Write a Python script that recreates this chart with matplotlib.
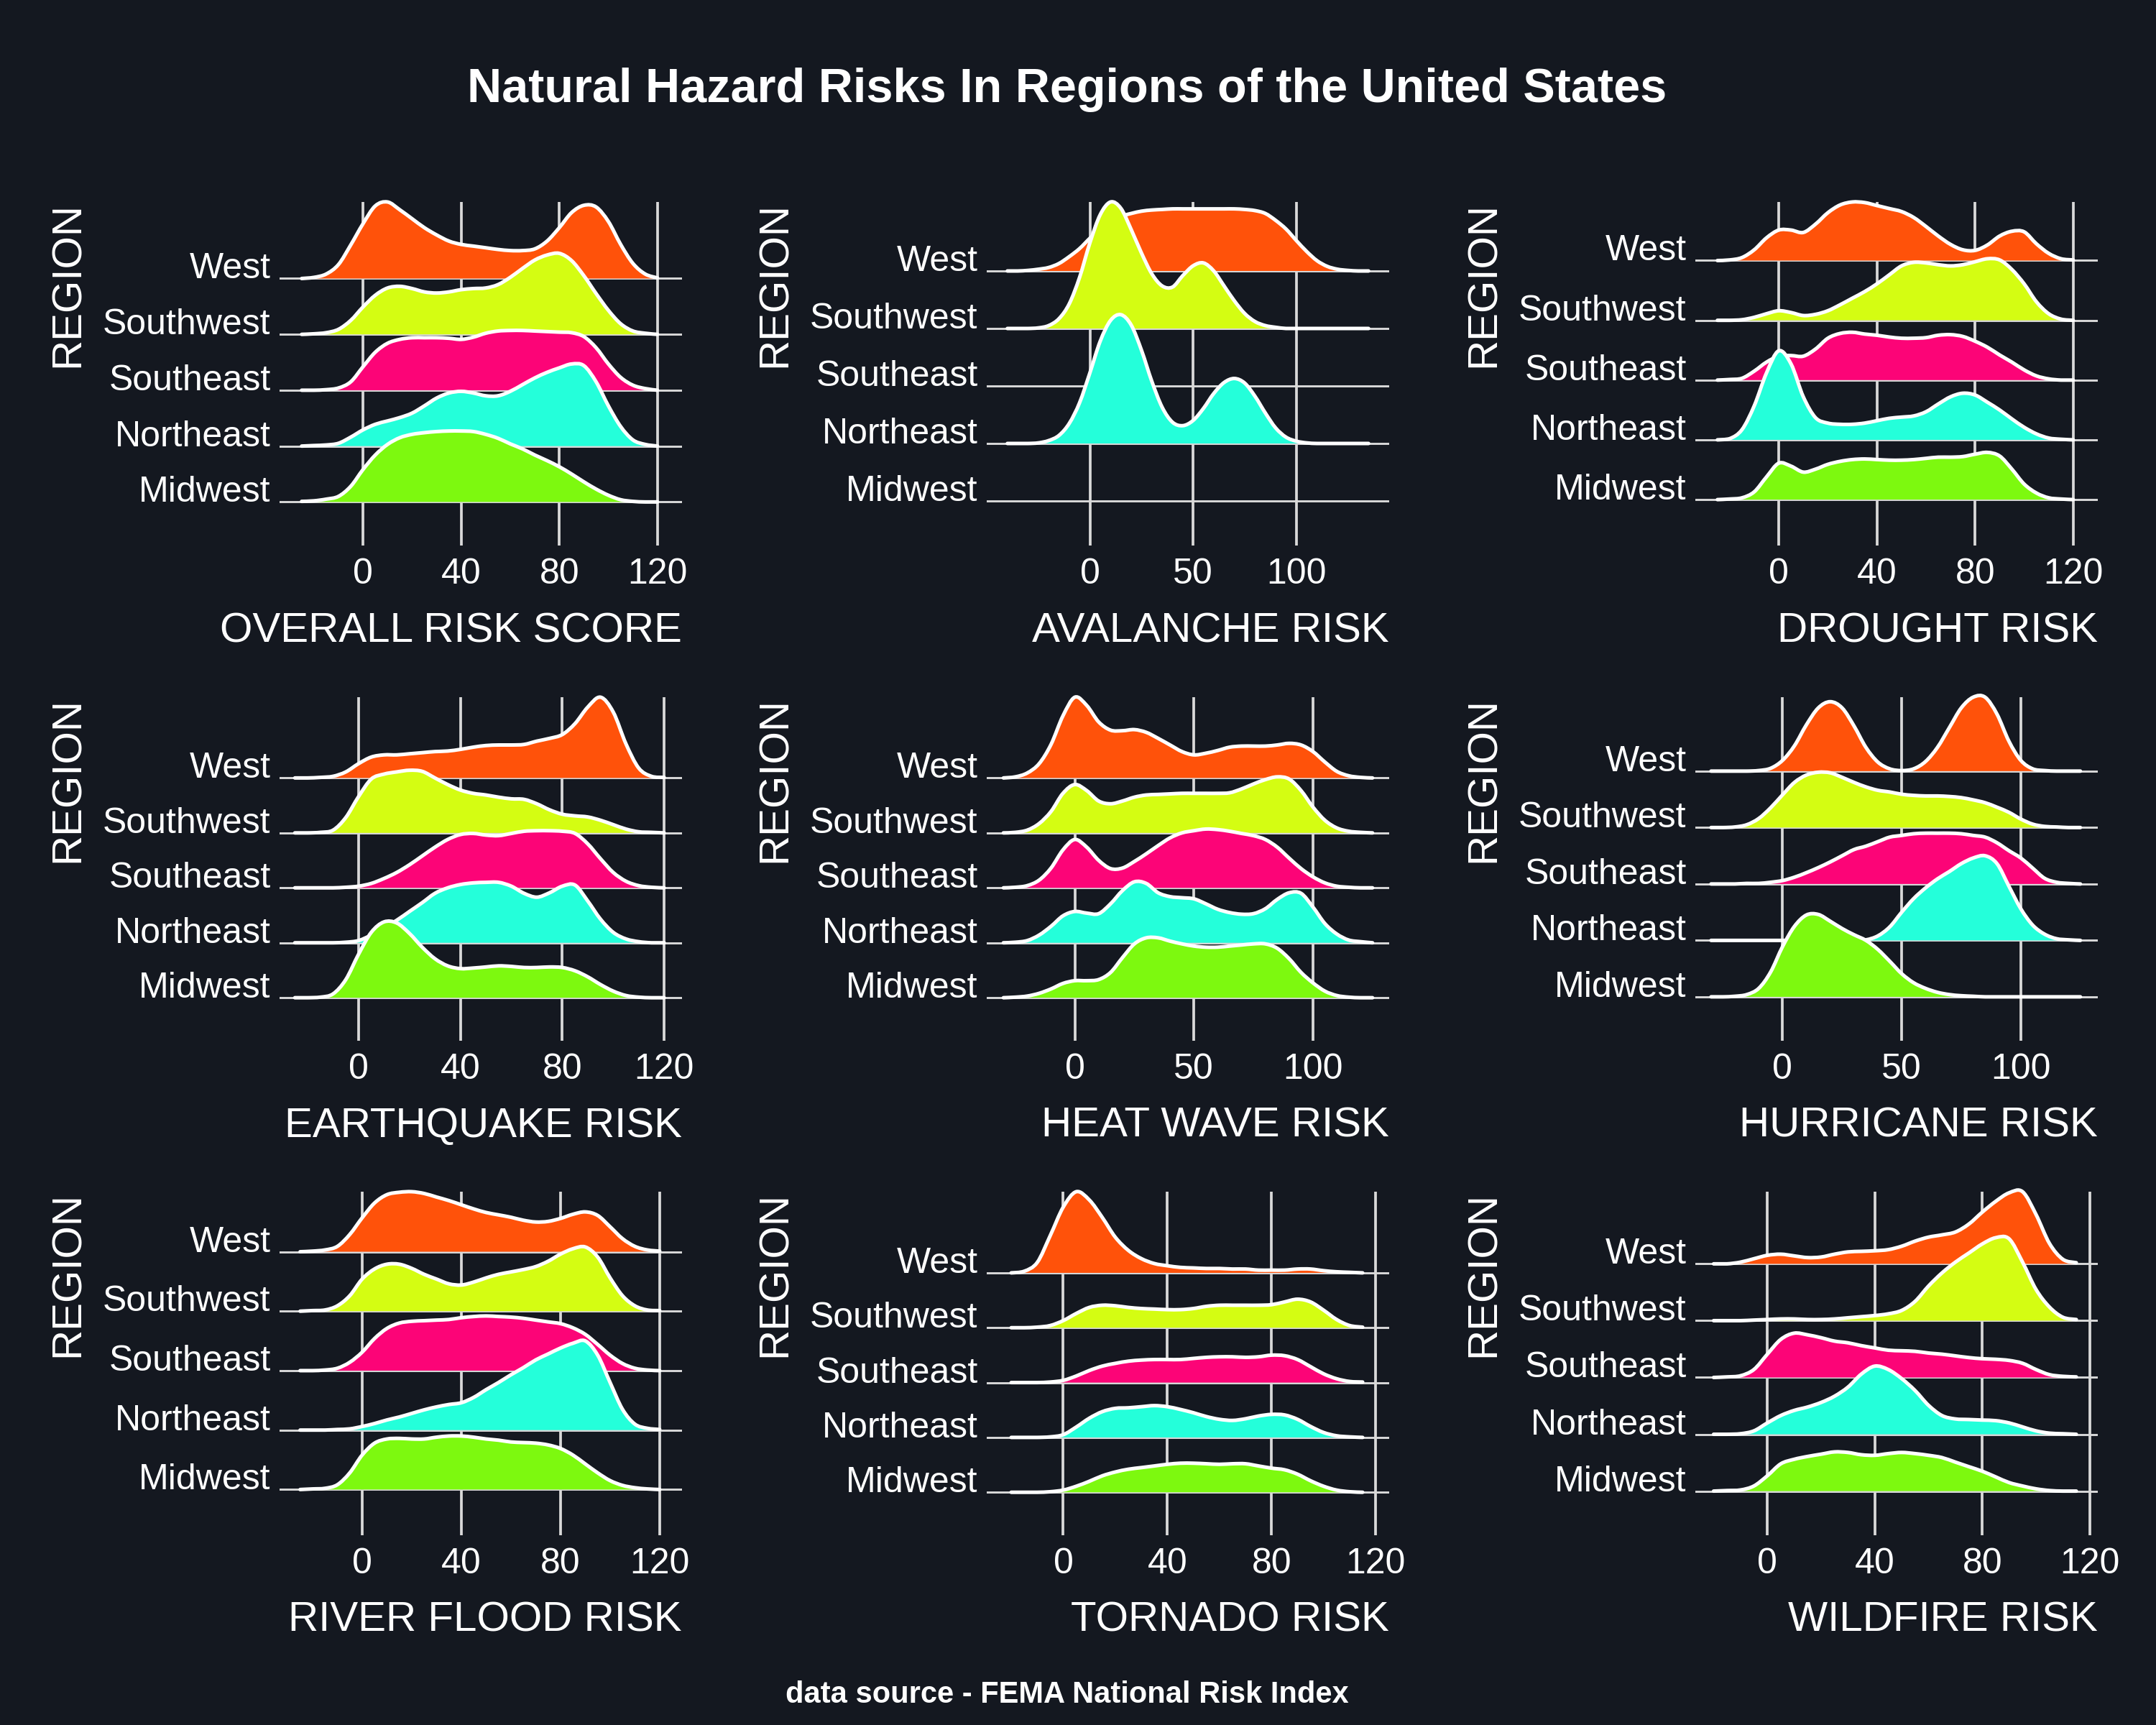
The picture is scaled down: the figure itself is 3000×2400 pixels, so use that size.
import numpy as np
import matplotlib
matplotlib.use("Agg")
import matplotlib.pyplot as plt
from matplotlib.path import Path
from matplotlib.patches import PathPatch

plt.rcParams["font.family"] = ["Liberation Sans", "DejaVu Sans"]

BG = "#141820"
GRID = "#d9d9d9"

regions = ["West", "Southwest", "Southeast", "Northeast", "Midwest"]
colors = ["#FF520A", "#D4FD12", "#FC0477", "#24FFDA", "#7DF90F"]

# ridge heights, in units of the row spacing
# order of each list: West, Southwest, Southeast, Northeast, Midwest
overall_x = list(range(-25, 121, 5))
overall_risk = [
    [0, 0.02, 0.08, 0.25, 0.6, 0.98, 1.30, 1.37, 1.23, 1.07, 0.91, 0.78, 0.67, 0.61, 0.58,
     0.55, 0.52, 0.50, 0.50, 0.53, 0.67, 0.91, 1.18, 1.31, 1.28, 1.02, 0.61, 0.27, 0.08, 0.01],
    [0, 0.01, 0.03, 0.09, 0.25, 0.49, 0.70, 0.83, 0.86, 0.82, 0.76, 0.74, 0.76, 0.80, 0.82,
     0.83, 0.89, 1.02, 1.18, 1.33, 1.42, 1.45, 1.32, 1.05, 0.73, 0.43, 0.19, 0.06, 0.02, 0],
    [0, 0, 0.01, 0.04, 0.15, 0.42, 0.68, 0.84, 0.91, 0.94, 0.94, 0.94, 0.93, 0.91, 0.95,
     1.02, 1.06, 1.07, 1.07, 1.06, 1.05, 1.04, 1.03, 0.96, 0.76, 0.47, 0.23, 0.09, 0.03, 0],
    [0, 0.01, 0.02, 0.05, 0.16, 0.29, 0.39, 0.45, 0.51, 0.59, 0.72, 0.86, 0.95, 0.98, 0.95,
     0.90, 0.90, 0.98, 1.10, 1.22, 1.32, 1.40, 1.47, 1.44, 1.15, 0.72, 0.35, 0.11, 0.03, 0],
    [0.01, 0.02, 0.05, 0.10, 0.28, 0.58, 0.84, 1.03, 1.15, 1.21, 1.24, 1.26, 1.27, 1.27, 1.26,
     1.21, 1.14, 1.04, 0.95, 0.84, 0.74, 0.63, 0.50, 0.36, 0.23, 0.12, 0.04, 0.01, 0, 0],
]

avalanche_x = list(range(-40, 136, 5))
avalanche_risk = [
    [0, 0, 0.01, 0.03, 0.06, 0.13, 0.25, 0.39, 0.57, 0.73, 0.86, 0.95, 1.00, 1.04, 1.06, 1.07,
     1.08, 1.08, 1.08, 1.08, 1.08, 1.08, 1.08, 1.07, 1.05, 1.00, 0.88, 0.73, 0.53, 0.34, 0.18,
     0.08, 0.03, 0.01, 0, 0],
    [0, 0, 0, 0.01, 0.05, 0.17, 0.43, 0.89, 1.49, 1.98, 2.20, 2.09, 1.72, 1.31, 0.95, 0.74,
     0.72, 0.92, 1.09, 1.14, 1.00, 0.74, 0.48, 0.26, 0.12, 0.05, 0.02, 0, 0, 0, 0, 0, 0, 0, 0, 0],
    None,
    [0, 0, 0, 0.01, 0.05, 0.14, 0.35, 0.71, 1.23, 1.78, 2.14, 2.24, 2.06, 1.62, 1.08, 0.63,
     0.37, 0.31, 0.40, 0.61, 0.87, 1.06, 1.13, 1.05, 0.82, 0.53, 0.27, 0.11, 0.04, 0.01, 0, 0,
     0, 0, 0, 0],
    None,
]

drought_x = list(range(-25, 121, 5))
drought_risk = [
    [0, 0.01, 0.05, 0.18, 0.38, 0.51, 0.51, 0.47, 0.61, 0.80, 0.93, 0.98, 0.97, 0.92, 0.87,
     0.82, 0.72, 0.57, 0.41, 0.27, 0.18, 0.17, 0.26, 0.41, 0.49, 0.48, 0.28, 0.12, 0.03, 0.01],
    [0, 0, 0.01, 0.05, 0.11, 0.16, 0.13, 0.08, 0.10, 0.16, 0.26, 0.37, 0.48, 0.61, 0.76,
     0.91, 0.97, 0.96, 0.93, 0.91, 0.93, 0.98, 1.03, 1.01, 0.85, 0.61, 0.31, 0.11, 0.02, 0],
    [0, 0.01, 0.03, 0.15, 0.30, 0.40, 0.41, 0.40, 0.52, 0.70, 0.78, 0.80, 0.77, 0.75, 0.72,
     0.70, 0.70, 0.71, 0.75, 0.76, 0.73, 0.65, 0.55, 0.42, 0.30, 0.17, 0.07, 0.02, 0, 0],
    [0, 0.02, 0.17, 0.57, 1.12, 1.49, 1.27, 0.72, 0.37, 0.28, 0.26, 0.26, 0.28, 0.32, 0.36,
     0.38, 0.40, 0.47, 0.60, 0.72, 0.78, 0.75, 0.63, 0.50, 0.35, 0.21, 0.10, 0.03, 0.01, 0],
    [0, 0.01, 0.03, 0.13, 0.38, 0.61, 0.56, 0.46, 0.51, 0.59, 0.64, 0.67, 0.68, 0.67, 0.66,
     0.66, 0.67, 0.69, 0.71, 0.71, 0.72, 0.76, 0.79, 0.73, 0.51, 0.26, 0.11, 0.03, 0.01, 0],
]

earthquake_x = list(range(-25, 121, 5))
earthquake_risk = [
    [0, 0, 0.01, 0.03, 0.11, 0.26, 0.38, 0.42, 0.42, 0.44, 0.46, 0.48, 0.49, 0.52, 0.56,
     0.59, 0.60, 0.60, 0.61, 0.67, 0.72, 0.79, 0.99, 1.29, 1.47, 1.20, 0.62, 0.18, 0.03, 0.01],
    [0, 0, 0.01, 0.05, 0.28, 0.66, 0.98, 1.07, 1.11, 1.14, 1.12, 1.00, 0.88, 0.78, 0.72,
     0.69, 0.65, 0.62, 0.61, 0.53, 0.42, 0.34, 0.31, 0.29, 0.23, 0.15, 0.07, 0.02, 0.01, 0],
    [0, 0, 0, 0, 0.01, 0.03, 0.08, 0.17, 0.28, 0.42, 0.58, 0.74, 0.88, 0.97, 0.99,
     0.96, 0.95, 0.99, 1.03, 1.04, 1.04, 1.03, 0.99, 0.80, 0.53, 0.28, 0.12, 0.04, 0.01, 0],
    [0, 0, 0, 0, 0.01, 0.04, 0.14, 0.27, 0.41, 0.57, 0.73, 0.90, 1.00, 1.06, 1.09,
     1.10, 1.10, 1.03, 0.90, 0.83, 0.91, 1.03, 1.05, 0.76, 0.43, 0.19, 0.07, 0.02, 0, 0],
    [0, 0, 0.01, 0.07, 0.33, 0.79, 1.19, 1.38, 1.36, 1.17, 0.92, 0.71, 0.58, 0.53, 0.54,
     0.56, 0.58, 0.57, 0.55, 0.55, 0.56, 0.55, 0.49, 0.38, 0.24, 0.12, 0.04, 0.01, 0, 0],
]

heat_wave_x = list(range(-30, 126, 5))
heat_wave_risk = [
    [0, 0.02, 0.09, 0.26, 0.61, 1.13, 1.47, 1.32, 1.02, 0.87, 0.86, 0.88, 0.83, 0.72, 0.60, 0.48,
     0.42, 0.45, 0.50, 0.56, 0.58, 0.58, 0.58, 0.60, 0.63, 0.60, 0.48, 0.29, 0.12, 0.04, 0.01, 0],
    [0, 0.01, 0.05, 0.17, 0.39, 0.72, 0.88, 0.77, 0.58, 0.53, 0.58, 0.65, 0.69, 0.70, 0.71, 0.72,
     0.72, 0.72, 0.72, 0.73, 0.80, 0.89, 0.97, 1.02, 0.98, 0.77, 0.47, 0.23, 0.09, 0.03, 0.01, 0],
    [0, 0.01, 0.04, 0.14, 0.36, 0.69, 0.88, 0.74, 0.50, 0.35, 0.36, 0.48, 0.62, 0.77, 0.91, 1.00,
     1.04, 1.07, 1.06, 1.03, 0.99, 0.95, 0.88, 0.74, 0.54, 0.35, 0.20, 0.09, 0.03, 0.01, 0, 0],
    [0, 0.01, 0.04, 0.14, 0.30, 0.49, 0.57, 0.54, 0.53, 0.71, 0.95, 1.11, 1.08, 0.91, 0.84, 0.82,
     0.80, 0.71, 0.61, 0.55, 0.52, 0.53, 0.62, 0.79, 0.91, 0.90, 0.65, 0.35, 0.16, 0.05, 0.02, 0],
    [0, 0.01, 0.03, 0.08, 0.16, 0.26, 0.31, 0.31, 0.33, 0.46, 0.73, 0.98, 1.09, 1.09, 1.03, 0.98,
     0.94, 0.92, 0.92, 0.94, 0.96, 0.98, 0.98, 0.90, 0.71, 0.46, 0.27, 0.12, 0.04, 0.01, 0, 0],
]

hurricane_x = list(range(-30, 126, 5))
hurricane_risk = [
    [0, 0, 0, 0, 0.01, 0.05, 0.19, 0.45, 0.82, 1.12, 1.23, 1.12, 0.80, 0.42, 0.16, 0.04,
     0.01, 0.04, 0.17, 0.42, 0.77, 1.12, 1.31, 1.31, 1.01, 0.53, 0.19, 0.04, 0.01, 0, 0, 0],
    [0, 0, 0.01, 0.05, 0.16, 0.35, 0.58, 0.80, 0.93, 0.98, 0.97, 0.89, 0.80, 0.72, 0.66, 0.63,
     0.59, 0.57, 0.56, 0.56, 0.55, 0.53, 0.49, 0.44, 0.36, 0.27, 0.15, 0.06, 0.02, 0.01, 0, 0],
    [0, 0, 0, 0.01, 0.01, 0.03, 0.06, 0.12, 0.20, 0.29, 0.39, 0.50, 0.61, 0.67, 0.75, 0.83,
     0.86, 0.89, 0.90, 0.90, 0.90, 0.89, 0.86, 0.83, 0.73, 0.59, 0.46, 0.28, 0.10, 0.03, 0.01, 0],
    [0, 0, 0, 0, 0, 0, 0, 0, 0, 0, 0, 0, 0, 0.01, 0.08, 0.24,
     0.50, 0.74, 0.93, 1.09, 1.22, 1.36, 1.46, 1.50, 1.36, 0.96, 0.56, 0.27, 0.11, 0.03, 0.01, 0],
    [0, 0, 0.01, 0.04, 0.15, 0.44, 0.89, 1.25, 1.45, 1.46, 1.34, 1.21, 1.10, 1.00, 0.84, 0.63,
     0.41, 0.25, 0.15, 0.08, 0.04, 0.02, 0.01, 0, 0, 0, 0, 0, 0, 0, 0, 0],
]

river_flood_x = list(range(-25, 121, 5))
river_flood_risk = [
    [0, 0.01, 0.03, 0.09, 0.29, 0.57, 0.82, 0.96, 1.00, 1.01, 0.98, 0.92, 0.86, 0.79, 0.72,
     0.66, 0.62, 0.58, 0.53, 0.50, 0.51, 0.56, 0.63, 0.67, 0.61, 0.42, 0.22, 0.09, 0.03, 0.01],
    [0, 0.01, 0.02, 0.09, 0.26, 0.54, 0.71, 0.79, 0.79, 0.72, 0.62, 0.54, 0.46, 0.44, 0.49,
     0.56, 0.62, 0.66, 0.70, 0.75, 0.84, 0.96, 1.05, 1.08, 0.91, 0.56, 0.26, 0.09, 0.02, 0.01],
    [0, 0, 0.01, 0.04, 0.14, 0.31, 0.54, 0.71, 0.80, 0.83, 0.84, 0.85, 0.86, 0.89, 0.91,
     0.92, 0.91, 0.90, 0.88, 0.85, 0.82, 0.79, 0.72, 0.61, 0.44, 0.26, 0.12, 0.04, 0.01, 0],
    [0, 0, 0, 0.01, 0.02, 0.06, 0.11, 0.17, 0.22, 0.28, 0.34, 0.39, 0.43, 0.46, 0.55,
     0.68, 0.80, 0.93, 1.05, 1.18, 1.28, 1.38, 1.46, 1.50, 1.26, 0.80, 0.35, 0.10, 0.03, 0.01],
    [0, 0.01, 0.02, 0.08, 0.28, 0.58, 0.78, 0.85, 0.86, 0.85, 0.85, 0.88, 0.90, 0.90, 0.88,
     0.85, 0.83, 0.80, 0.79, 0.78, 0.75, 0.69, 0.58, 0.43, 0.28, 0.15, 0.07, 0.03, 0.01, 0],
]

tornado_x = list(range(-20, 116, 5))
tornado_risk = [
    [0, 0.03, 0.19, 0.68, 1.20, 1.48, 1.33, 1.01, 0.65, 0.41, 0.26, 0.17, 0.13, 0.10,
     0.09, 0.08, 0.08, 0.07, 0.07, 0.05, 0.05, 0.05, 0.07, 0.07, 0.04, 0.02, 0.01, 0],
    [0, 0, 0.01, 0.04, 0.13, 0.26, 0.37, 0.41, 0.40, 0.37, 0.35, 0.34, 0.33, 0.33,
     0.35, 0.39, 0.41, 0.41, 0.41, 0.41, 0.42, 0.47, 0.52, 0.47, 0.32, 0.15, 0.04, 0.01],
    [0, 0, 0, 0.01, 0.04, 0.12, 0.22, 0.30, 0.35, 0.39, 0.41, 0.42, 0.42, 0.42,
     0.44, 0.46, 0.47, 0.47, 0.46, 0.47, 0.50, 0.49, 0.42, 0.29, 0.16, 0.07, 0.02, 0.01],
    [0, 0, 0, 0.01, 0.05, 0.19, 0.35, 0.47, 0.53, 0.54, 0.56, 0.58, 0.56, 0.51,
     0.45, 0.38, 0.33, 0.31, 0.34, 0.39, 0.42, 0.41, 0.33, 0.20, 0.09, 0.03, 0.01, 0],
    [0, 0, 0, 0.01, 0.04, 0.11, 0.20, 0.30, 0.37, 0.42, 0.45, 0.48, 0.51, 0.53,
     0.53, 0.52, 0.51, 0.52, 0.52, 0.48, 0.44, 0.41, 0.33, 0.21, 0.11, 0.04, 0.01, 0],
]

wildfire_x = list(range(-20, 116, 5))
wildfire_risk = [
    [0, 0, 0.03, 0.09, 0.15, 0.17, 0.14, 0.11, 0.12, 0.17, 0.21, 0.22, 0.23, 0.25,
     0.31, 0.40, 0.47, 0.51, 0.56, 0.70, 0.91, 1.10, 1.25, 1.27, 0.87, 0.36, 0.08, 0.02],
    [0, 0, 0, 0.01, 0.02, 0.03, 0.03, 0.02, 0.02, 0.03, 0.05, 0.07, 0.09, 0.12,
     0.18, 0.34, 0.61, 0.84, 1.03, 1.19, 1.35, 1.46, 1.44, 1.03, 0.55, 0.24, 0.06, 0.02],
    [0, 0.01, 0.03, 0.14, 0.41, 0.67, 0.78, 0.75, 0.70, 0.64, 0.61, 0.56, 0.52, 0.48,
     0.47, 0.46, 0.43, 0.41, 0.38, 0.35, 0.33, 0.32, 0.30, 0.25, 0.14, 0.05, 0.02, 0.01],
    [0, 0, 0.01, 0.06, 0.20, 0.33, 0.42, 0.48, 0.56, 0.67, 0.83, 1.06, 1.20, 1.14,
     0.98, 0.77, 0.51, 0.33, 0.27, 0.26, 0.25, 0.24, 0.20, 0.13, 0.06, 0.02, 0.01, 0],
    [0, 0.01, 0.02, 0.09, 0.27, 0.48, 0.56, 0.61, 0.65, 0.69, 0.68, 0.64, 0.63, 0.66,
     0.68, 0.66, 0.63, 0.59, 0.51, 0.43, 0.35, 0.25, 0.15, 0.09, 0.04, 0.01, 0, 0],
]

ticks_40 = [0, 40, 80, 120]
ticks_50 = [0, 50, 100]

panels = [
    ("OVERALL RISK SCORE", overall_x, overall_risk, (-34, 130), ticks_40),
    ("AVALANCHE RISK", avalanche_x, avalanche_risk, (-50, 145), ticks_50),
    ("DROUGHT RISK", drought_x, drought_risk, (-34, 130), ticks_40),
    ("EARTHQUAKE RISK", earthquake_x, earthquake_risk, (-31, 127), ticks_40),
    ("HEAT WAVE RISK", heat_wave_x, heat_wave_risk, (-37, 132), ticks_50),
    ("HURRICANE RISK", hurricane_x, hurricane_risk, (-36.6, 132.3), ticks_50),
    ("RIVER FLOOD RISK", river_flood_x, river_flood_risk, (-33.3, 129), ticks_40),
    ("TORNADO RISK", tornado_x, tornado_risk, (-29.4, 125.2), ticks_40),
    ("WILDFIRE RISK", wildfire_x, wildfire_risk, (-26.8, 123), ticks_40),
]


def ridge_vertices(x, h, base):
    """Smooth (Catmull-Rom as cubic Bezier) outline through the read points."""
    pts = np.column_stack([np.asarray(x, float), np.asarray(h, float) + base])
    n = len(pts)
    verts = [pts[0]]
    codes = [Path.MOVETO]
    for i in range(n - 1):
        p0, p1 = pts[max(i - 1, 0)], pts[i]
        p2, p3 = pts[i + 1], pts[min(i + 2, n - 1)]
        c1 = p1 + (p2 - p0) / 6.0
        c2 = p2 - (p3 - p1) / 6.0
        c1[1] = max(c1[1], base)
        c2[1] = max(c2[1], base)
        verts += [c1, c2, p2]
        codes += [Path.CURVE4] * 3
    return verts, codes


fig = plt.figure(figsize=(10, 8), dpi=300, facecolor=BG)

col_left = [389 / 3000, 1373 / 3000, 2359 / 3000]
row_bottom = [1 - 745 / 2400, 1 - 1434 / 2400, 1 - 2122 / 2400]
ax_w = 560 / 3000
ax_h = 464 / 2400

for k, (label, xs, heights, xlim, ticks) in enumerate(panels):
    ax = fig.add_axes([col_left[k % 3], row_bottom[k // 3], ax_w, ax_h])
    ax.set_facecolor(BG)
    ax.set_axisbelow(True)

    top = 5.0
    for i, h in enumerate(heights):
        if h is None:
            continue
        base = 5 - i
        top = max(top, base + max(h))
        verts, codes = ridge_vertices(xs, h, base)
        fill_verts = verts + [(xs[-1], base), (xs[0], base), verts[0]]
        fill_codes = codes + [Path.LINETO, Path.LINETO, Path.CLOSEPOLY]
        ax.add_patch(PathPatch(Path(fill_verts, fill_codes), facecolor=colors[i],
                               edgecolor="none", zorder=3 + 2 * i, clip_on=False))
        ax.add_patch(PathPatch(Path(verts, codes), facecolor="none", edgecolor="white",
                               lw=1.2, zorder=4 + 2 * i, clip_on=False,
                               capstyle="round", joinstyle="round"))

    for b in range(1, 6):
        ax.axhline(b, color=GRID, lw=0.7, zorder=1)

    ax.set_xlim(*xlim)
    ax.set_ylim(0.4, top)
    ax.set_xticks(ticks)
    ax.set_xticklabels([str(t) for t in ticks])
    ax.set_yticks([5, 4, 3, 2, 1])
    ax.set_yticklabels(regions)
    for lab in ax.get_yticklabels():
        lab.set_verticalalignment("baseline")

    ax.grid(axis="x", color=GRID, lw=0.9)
    ax.grid(axis="y", visible=False)
    for s in ax.spines.values():
        s.set_visible(False)

    ax.tick_params(axis="x", colors=GRID, labelcolor="white", labelsize=12,
                   length=3.4, width=0.9, pad=4)
    ax.tick_params(axis="y", labelcolor="white", labelsize=12, length=0, pad=3)

    ax.set_xlabel(label, color="white", fontsize=14, loc="right", labelpad=7)
    ax.set_ylabel("REGION", color="white", fontsize=14, loc="top", labelpad=5)

fig.text(0.495, 0.948, "Natural Hazard Risks In Regions of the United States",
         color="white", fontsize=16, fontweight="bold", ha="center", va="center")
fig.text(0.495, 0.0175, "data source - FEMA National Risk Index",
         color="white", fontsize=10, fontweight="bold", ha="center", va="center")

fig.savefig("out.png", dpi=300, facecolor=BG)
